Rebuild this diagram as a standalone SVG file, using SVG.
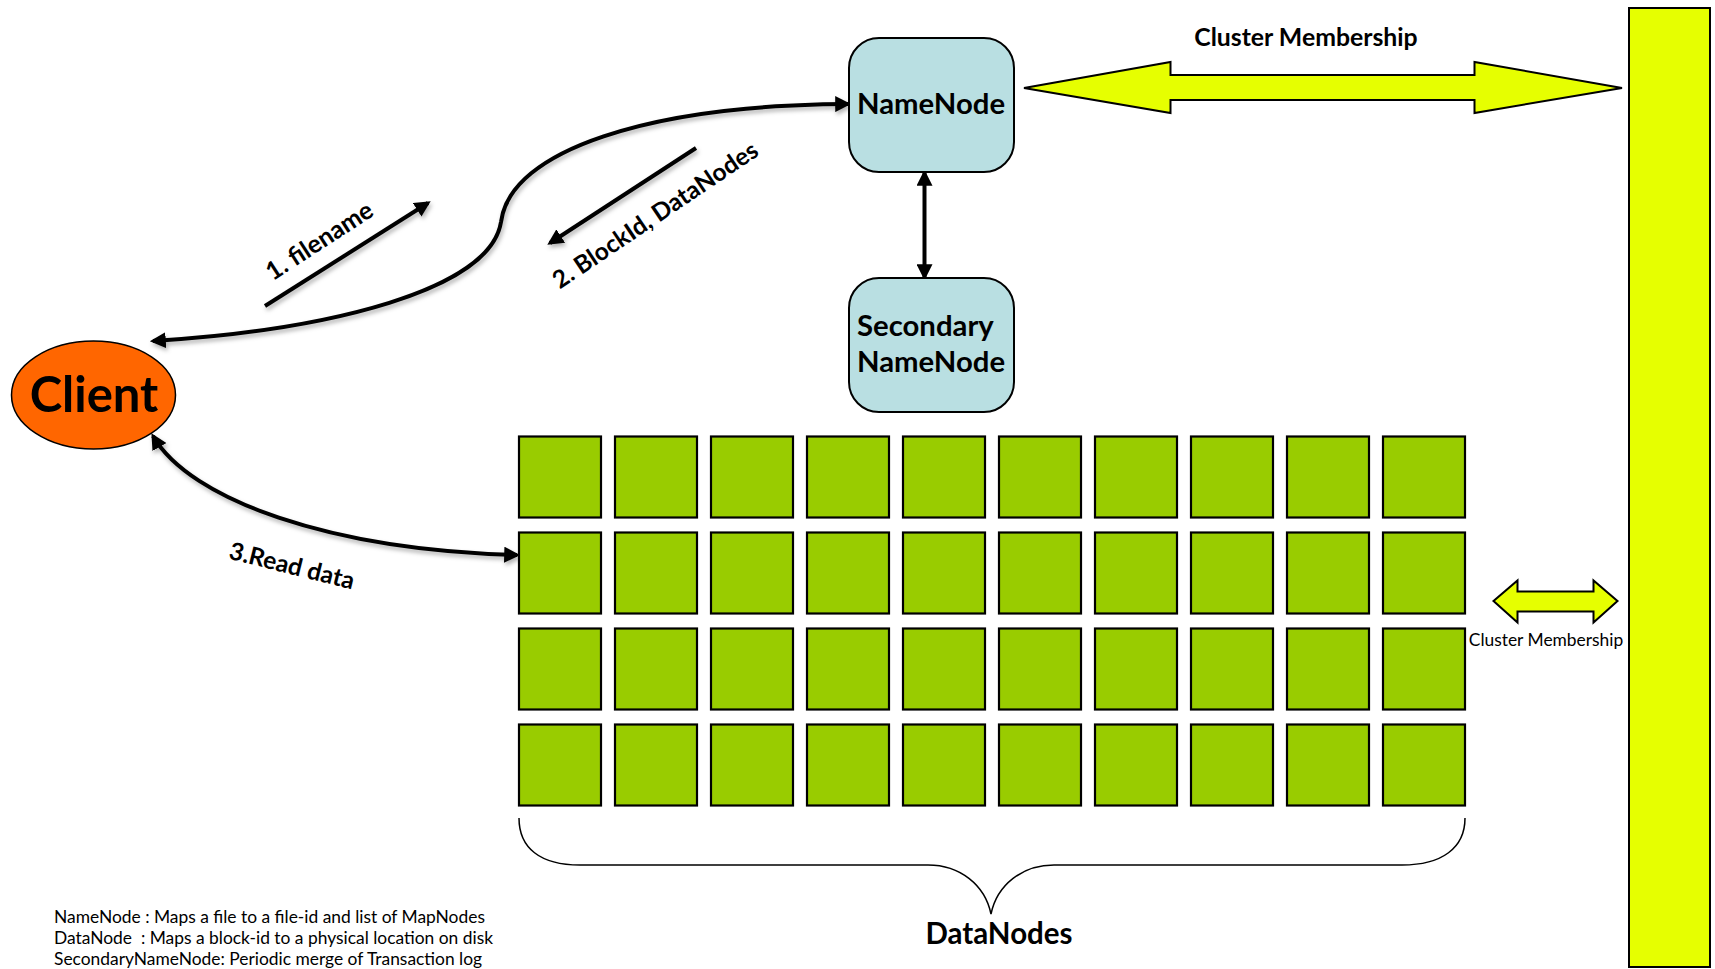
<svg xmlns="http://www.w3.org/2000/svg" width="1715" height="969" viewBox="0 0 1715 969">
<style>
.lbl{font-family:Lato,"Open Sans","Liberation Sans",sans-serif;font-weight:bold;fill:#000}
.note{font-family:Lato,"Open Sans","Liberation Sans",sans-serif;font-size:17.4px;fill:#000;white-space:pre}
.box{fill:#B9DFE2;stroke:#000;stroke-width:2}
.dn{fill:#99CC00;stroke:#000;stroke-width:2.2}
.conn{fill:none;stroke:#000;stroke-width:4}
.fat{fill:#E6FF00;stroke:#000;stroke-width:2}
</style>
<defs>
<marker id="ah" viewBox="0 0 10 10" refX="8" refY="5" markerWidth="16" markerHeight="16" markerUnits="userSpaceOnUse" orient="auto-start-reverse">
<path d="M0,0 L10,5 L0,10 z" fill="#000"/>
</marker>
<filter id="sh" x="-10%" y="-10%" width="120%" height="130%">
<feDropShadow dx="1.5" dy="3" stdDeviation="2" flood-color="#000" flood-opacity="0.3"/>
</filter>
</defs>

<g id="connectors">
<path class="conn" filter="url(#sh)" d="M153,341 C330,330 490,290 501,222 C510,150 650,105 848,104" marker-start="url(#ah)" marker-end="url(#ah)"/>
<path class="conn" filter="url(#sh)" d="M265,306 L428,203" marker-end="url(#ah)"/>
<path class="conn" filter="url(#sh)" d="M696,148 L550,243" marker-end="url(#ah)"/>
<path class="conn" filter="url(#sh)" d="M153,436 C190,500 330,550 517,555" marker-start="url(#ah)" marker-end="url(#ah)"/>
<path class="conn" stroke-width="3.5" d="M924.5,173 L924.5,277" marker-start="url(#ah)" marker-end="url(#ah)"/>
<text class="lbl" font-size="25" transform="translate(324,248) rotate(-33)" text-anchor="middle">1. filename</text>
<text class="lbl" font-size="24.5" transform="translate(660,222) rotate(-34)" text-anchor="middle">2. BlockId, DataNodes</text>
<text class="lbl" font-size="24.5" transform="translate(290,574) rotate(14)" text-anchor="middle">3.Read data</text>
</g>

<g id="client">
<ellipse cx="93.5" cy="395" rx="82" ry="54" fill="#FF6600" stroke="#000" stroke-width="1.5"/>
<text class="lbl" font-size="49" x="94" y="412" text-anchor="middle">Client</text>
</g>

<g id="namenode">
<rect class="box" x="849" y="38" width="165" height="134" rx="30" ry="30"/>
<text class="lbl" font-size="29.3" x="857" y="114">NameNode</text>
</g>

<g id="secondary-namenode">
<rect class="box" x="849" y="278" width="165" height="134" rx="30" ry="30"/>
<text class="lbl" font-size="29.3" x="857" y="336">Secondary</text>
<text class="lbl" font-size="29.3" x="857" y="372">NameNode</text>
</g>

<g id="cluster-bar">
<rect x="1629" y="8" width="81" height="959" fill="#E6FF00" stroke="#000" stroke-width="2"/>
</g>

<g id="cluster-membership-top">
<path class="fat" d="M1024,88 L1170.5,62 L1170.5,75 L1474.5,75 L1474.5,62 L1622,88 L1474.5,113 L1474.5,100 L1170.5,100 L1170.5,113 Z"/>
<text class="lbl" font-size="24.8" x="1306" y="46" text-anchor="middle">Cluster Membership</text>
</g>

<g id="cluster-membership-small">
<path class="fat" d="M1493.5,601 L1517.5,580.5 L1517.5,591.5 L1593.5,591.5 L1593.5,580.5 L1617.5,601 L1593.5,622.5 L1593.5,611.5 L1517.5,611.5 L1517.5,622.5 Z"/>
<text class="note" x="1546" y="646" text-anchor="middle">Cluster Membership</text>
</g>

<g id="datanodes">
<rect class="dn" x="519" y="436.5" width="82" height="81"/><rect class="dn" x="615" y="436.5" width="82" height="81"/><rect class="dn" x="711" y="436.5" width="82" height="81"/><rect class="dn" x="807" y="436.5" width="82" height="81"/><rect class="dn" x="903" y="436.5" width="82" height="81"/><rect class="dn" x="999" y="436.5" width="82" height="81"/><rect class="dn" x="1095" y="436.5" width="82" height="81"/><rect class="dn" x="1191" y="436.5" width="82" height="81"/><rect class="dn" x="1287" y="436.5" width="82" height="81"/><rect class="dn" x="1383" y="436.5" width="82" height="81"/>
<rect class="dn" x="519" y="532.5" width="82" height="81"/><rect class="dn" x="615" y="532.5" width="82" height="81"/><rect class="dn" x="711" y="532.5" width="82" height="81"/><rect class="dn" x="807" y="532.5" width="82" height="81"/><rect class="dn" x="903" y="532.5" width="82" height="81"/><rect class="dn" x="999" y="532.5" width="82" height="81"/><rect class="dn" x="1095" y="532.5" width="82" height="81"/><rect class="dn" x="1191" y="532.5" width="82" height="81"/><rect class="dn" x="1287" y="532.5" width="82" height="81"/><rect class="dn" x="1383" y="532.5" width="82" height="81"/>
<rect class="dn" x="519" y="628.5" width="82" height="81"/><rect class="dn" x="615" y="628.5" width="82" height="81"/><rect class="dn" x="711" y="628.5" width="82" height="81"/><rect class="dn" x="807" y="628.5" width="82" height="81"/><rect class="dn" x="903" y="628.5" width="82" height="81"/><rect class="dn" x="999" y="628.5" width="82" height="81"/><rect class="dn" x="1095" y="628.5" width="82" height="81"/><rect class="dn" x="1191" y="628.5" width="82" height="81"/><rect class="dn" x="1287" y="628.5" width="82" height="81"/><rect class="dn" x="1383" y="628.5" width="82" height="81"/>
<rect class="dn" x="519" y="724.5" width="82" height="81"/><rect class="dn" x="615" y="724.5" width="82" height="81"/><rect class="dn" x="711" y="724.5" width="82" height="81"/><rect class="dn" x="807" y="724.5" width="82" height="81"/><rect class="dn" x="903" y="724.5" width="82" height="81"/><rect class="dn" x="999" y="724.5" width="82" height="81"/><rect class="dn" x="1095" y="724.5" width="82" height="81"/><rect class="dn" x="1191" y="724.5" width="82" height="81"/><rect class="dn" x="1287" y="724.5" width="82" height="81"/><rect class="dn" x="1383" y="724.5" width="82" height="81"/>
</g>

<g id="datanodes-brace">
<path fill="none" stroke="#000" stroke-width="1.5" d="M519,818 C519,848 540,865 580,865 L928,865 C960,865 985,885 991,914 C997,885 1022,865 1054,865 L1402,865 C1442,865 1465,848 1465,818"/>
<text class="lbl" font-size="29.5" x="999" y="944" text-anchor="middle">DataNodes</text>
</g>

<g id="legend">
<text class="note" x="54" y="923">NameNode : Maps a file to a file-id and list of MapNodes</text>
<text class="note" x="54" y="944">DataNode  : Maps a block-id to a physical location on disk</text>
<text class="note" x="54" y="965">SecondaryNameNode: Periodic merge of Transaction log</text>
</g>
</svg>
